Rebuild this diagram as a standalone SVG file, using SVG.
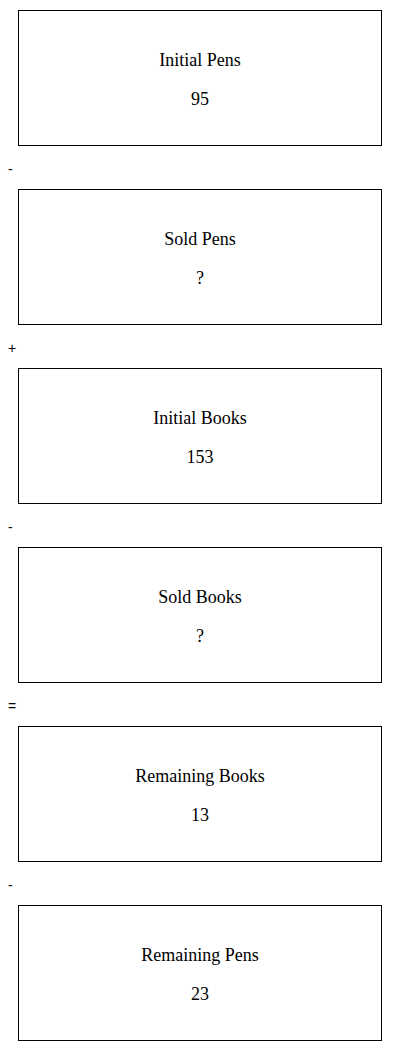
<svg xmlns="http://www.w3.org/2000/svg" width="400" height="1051" viewBox="0 0 400 1051">
<style>
.box{fill:#fff;stroke:#000;stroke-width:1}
.t{font-family:"Liberation Serif",serif;font-size:18px;text-anchor:middle;fill:#000}
.op{font-family:"Liberation Sans",sans-serif;font-size:14px;fill:#000}
</style>
<rect width="400" height="1051" fill="#fff"/>
<g id="n1"><rect class="box" x="18.5" y="10.5" width="363" height="135"/><text class="t" x="200" y="66">Initial Pens</text><text class="t" x="200" y="105">95</text></g>
<g id="n2"><rect class="box" x="18.5" y="189.5" width="363" height="135"/><text class="t" x="200" y="245">Sold Pens</text><text class="t" x="200" y="284">?</text></g>
<g id="n3"><rect class="box" x="18.5" y="368.5" width="363" height="135"/><text class="t" x="200" y="424">Initial Books</text><text class="t" x="200" y="463">153</text></g>
<g id="n4"><rect class="box" x="18.5" y="547.5" width="363" height="135"/><text class="t" x="200" y="603">Sold Books</text><text class="t" x="200" y="642">?</text></g>
<g id="n5"><rect class="box" x="18.5" y="726.5" width="363" height="135"/><text class="t" x="200" y="782">Remaining Books</text><text class="t" x="200" y="821">13</text></g>
<g id="n6"><rect class="box" x="18.5" y="905.5" width="363" height="135"/><text class="t" x="200" y="961">Remaining Pens</text><text class="t" x="200" y="1000">23</text></g>
<g id="connectors">
<text class="op" x="8" y="174">-</text>
<text class="op" x="8" y="353">+</text>
<text class="op" x="8" y="532">-</text>
<text class="op" x="8" y="711">=</text>
<text class="op" x="8" y="890">-</text>
</g>
</svg>
